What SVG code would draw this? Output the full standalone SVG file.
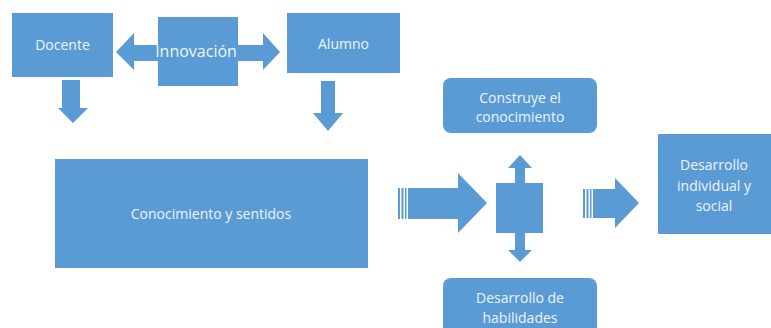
<svg xmlns="http://www.w3.org/2000/svg" width="771" height="328" viewBox="0 0 771 328">
<style>
.b{fill:#5B9BD5}
.t{font-family:"Open Sans","Liberation Sans",sans-serif;font-size:14px;fill:#EEF4FA;text-anchor:middle}
</style>
<rect width="771" height="328" fill="#ffffff"/>
<g id="connectors">
<path class="b" d="M116,52 L134,33 L134,45 L158,45 L158,61 L134,61 L134,70 Z"/>
<path class="b" d="M280,52 L263,33 L263,45 L238,45 L238,61 L263,61 L263,70 Z"/>
<path class="b" d="M62,80 L80,80 L80,108 L88,108 L73,123 L58,108 L62,108 Z"/>
<path class="b" d="M321,81 L335,81 L335,113 L343,113 L328,131 L313,113 L321,113 Z"/>
<g id="arrow1">
<rect class="b" x="398" y="188" width="2" height="31"/>
<rect class="b" x="401.5" y="188" width="2" height="31"/>
<rect class="b" x="405" y="188" width="1.5" height="31"/>
<path class="b" d="M408,188 L458,188 L458,173 L487,203 L458,233 L458,219 L408,219 Z"/>
</g>
<g id="arrow2">
<rect class="b" x="583" y="189" width="2" height="29"/>
<rect class="b" x="586.5" y="189" width="2" height="29"/>
<rect class="b" x="590" y="189" width="1.5" height="29"/>
<path class="b" d="M593,189 L615,189 L615,178 L639,203 L615,228 L615,218 L593,218 Z"/>
</g>
<path class="b" d="M520,155 L532,168 L525,168 L525,183 L515,183 L515,168 L508,168 Z"/>
<path class="b" d="M520,262 L532,250 L525,250 L525,233 L515,233 L515,250 L508,250 Z"/>
</g>
<g id="docente">
<rect class="b" x="12" y="13" width="101" height="64"/>
<text class="t" x="62.5" y="50">Docente</text>
</g>
<g id="innovacion">
<rect class="b" x="158" y="17" width="80" height="69"/>
<text class="t" x="196" y="57" style="font-size:16px">Innovación</text>
</g>
<g id="alumno">
<rect class="b" x="287" y="13" width="113" height="60"/>
<text class="t" x="343.5" y="49">Alumno</text>
</g>
<g id="conocimiento">
<rect class="b" x="55" y="159" width="313" height="109"/>
<text class="t" x="211" y="219">Conocimiento y sentidos</text>
</g>
<g id="centro">
<rect class="b" x="496" y="183" width="47" height="50"/>
</g>
<g id="construye">
<rect class="b" x="443" y="78" width="154" height="55" rx="8"/>
<text class="t" x="520" y="103">Construye el</text>
<text class="t" x="520" y="122">conocimiento</text>
</g>
<g id="habilidades">
<rect class="b" x="443" y="278" width="154" height="60" rx="8"/>
<text class="t" x="520" y="303">Desarrollo de</text>
<text class="t" x="520" y="323">habilidades</text>
</g>
<g id="desarrollo">
<rect class="b" x="658" y="134" width="113" height="100"/>
<text class="t" x="714" y="170">Desarrollo</text>
<text class="t" x="714" y="191">individual y</text>
<text class="t" x="714" y="211">social</text>
</g>
</svg>
